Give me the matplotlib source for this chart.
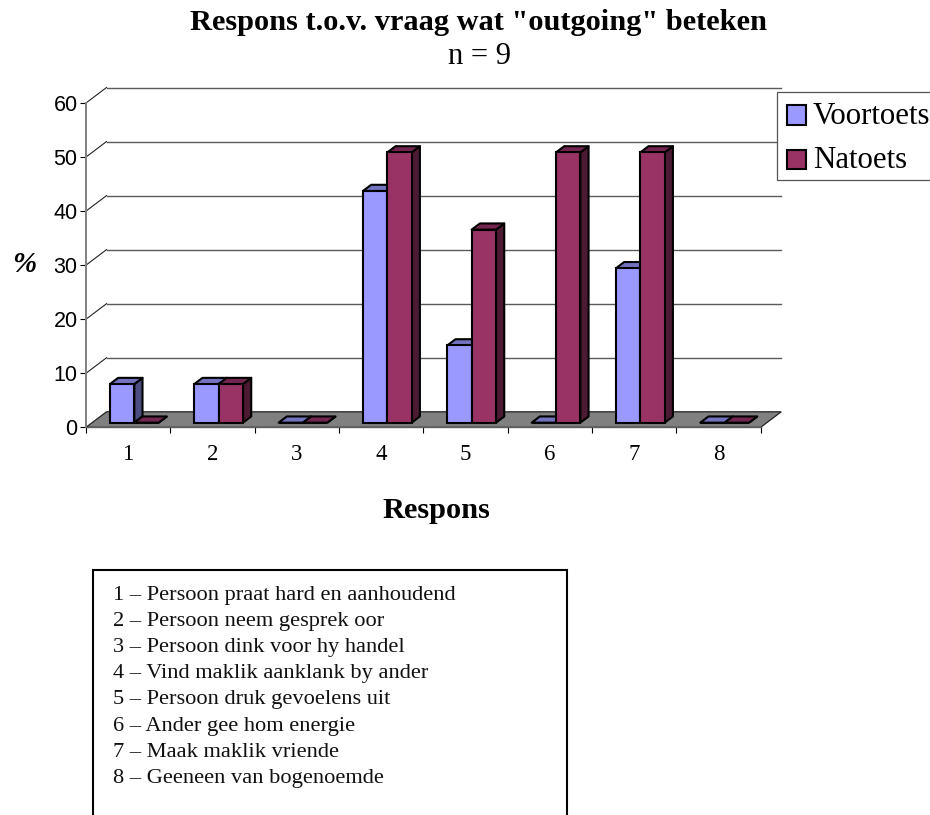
import matplotlib
matplotlib.use("Agg")
import matplotlib.pyplot as plt
from matplotlib.patches import Rectangle

SERIF = "Liberation Serif"
SANS = "Liberation Sans"

categories = ["1", "2", "3", "4", "5", "6", "7", "8"]
voortoets = [7.14, 7.14, 0, 42.86, 14.29, 0, 28.57, 0]
natoets = [0, 7.14, 0, 50, 35.71, 50, 50, 0]
y_ticks = [0, 10, 20, 30, 40, 50, 60]
series_names = ["Voortoets", "Natoets"]

key_lines = [
    "1 – Persoon praat hard en aanhoudend",
    "2 – Persoon neem gesprek oor",
    "3 – Persoon dink voor hy handel",
    "4 – Vind maklik aanklank by ander",
    "5 – Persoon druk gevoelens uit",
    "6 – Ander gee hom energie",
    "7 – Maak maklik vriende",
    "8 – Geeneen van bogenoemde",
]

W, H = 930, 815
LEFT, RIGHT, TOP, BOTTOM = 86, 760.7, 103, 427.3


def px(x, y):
    return x / W, 1 - y / H


def add_box(x_left, y_top, x_right, y_bottom, **kw):
    x0, y0 = px(x_left, y_bottom)
    x1, y1 = px(x_right, y_top)
    fig.add_artist(Rectangle((x0, y0), x1 - x0, y1 - y0, transform=fig.transFigure, **kw))


def add_text(x, y, text, **kw):
    fx, fy = px(x, y)
    fig.text(fx, fy, text, **kw)


# fake 3d depth, in data units
DEPTH_X = 20.5 / ((RIGHT - LEFT) / 8)
DEPTH_Y = 15.5 / ((BOTTOM - TOP) / 60)
GAP = 0.3
BAR_DEPTH = 0.4
BAR_W = 0.289

fig = plt.figure(figsize=(W / 100, H / 100), dpi=100)
ax = fig.add_axes([LEFT / W, 1 - BOTTOM / H, (RIGHT - LEFT) / W, (BOTTOM - TOP) / H])
ax.set_xlim(0, len(categories))
ax.set_ylim(0, 60)

# back wall lines
for y in y_ticks[1:]:
    ax.plot([0, DEPTH_X], [y, y + DEPTH_Y], color="#222222", lw=0.8, clip_on=False, zorder=1)
    ax.plot([DEPTH_X, len(categories) + DEPTH_X], [y + DEPTH_Y, y + DEPTH_Y],
            color="#5a5a5a", lw=1.0, clip_on=False, zorder=1)

# floor
n = len(categories)
ax.fill([0, n, n + DEPTH_X, DEPTH_X], [0, 0, DEPTH_Y, DEPTH_Y], facecolor="#808080",
        edgecolor="#222222", lw=0.9, clip_on=False, zorder=2)


def draw_bar(x0, value, front, side, top):
    bx = x0 + GAP * DEPTH_X
    by = GAP * DEPTH_Y
    dx = BAR_DEPTH * DEPTH_X
    dy = BAR_DEPTH * DEPTH_Y
    kw = dict(edgecolor="black", lw=1.5, clip_on=False, zorder=3, joinstyle="round")
    ax.fill([bx + BAR_W, bx + BAR_W + dx, bx + BAR_W + dx, bx + BAR_W],
            [by, by + dy, by + value + dy, by + value], facecolor=side, **kw)
    ax.fill([bx, bx + BAR_W, bx + BAR_W + dx, bx + dx],
            [by + value, by + value, by + value + dy, by + value + dy], facecolor=top, **kw)
    ax.bar(bx, value, BAR_W, bottom=by, align="edge", color=front, edgecolor="black",
           linewidth=1.5, clip_on=False, zorder=3)


pad = (1 - 2 * BAR_W) / 2
for i in range(n):
    draw_bar(i + pad, voortoets[i], "#9999ff", "#4c4c80", "#7373bf")
    draw_bar(i + pad + BAR_W, natoets[i], "#993366", "#4d1a33", "#732650")

for side in ["top", "right"]:
    ax.spines[side].set_visible(False)
ax.spines["left"].set_color("#808080")
ax.spines["left"].set_linewidth(1.4)
ax.spines["bottom"].set_color("#606060")
ax.spines["bottom"].set_linewidth(1.0)
ax.spines["left"].set_zorder(2.5)
ax.spines["bottom"].set_zorder(2.5)

ax.set_yticks(y_ticks)
ax.tick_params(axis="y", direction="out", length=4, width=0.8, pad=2, labelsize=15.5)
for label in ax.get_yticklabels():
    label.set_family(SANS)
ax.set_xticks(range(n + 1))
ax.set_xticklabels([])
ax.set_xticks([i + 0.5 for i in range(n)], categories, minor=True)
ax.tick_params(axis="x", which="major", direction="out", length=4, width=0.8)
ax.tick_params(axis="x", which="minor", length=0, pad=12, labelsize=16.5)
for label in ax.get_xticklabels(minor=True):
    label.set_family(SERIF)

# legend box, runs off the right edge
add_box(777, 91.7, 940, 180, facecolor="white", edgecolor="#555555", lw=0.9, zorder=5)
add_box(786.5, 104.5, 805.5, 124.5, facecolor="#9999ff", edgecolor="black", lw=1.5, zorder=6)
add_box(786.5, 149.5, 805.5, 169, facecolor="#993366", edgecolor="black", lw=1.5, zorder=6)
add_text(813, 124.3, series_names[0], family=SERIF, size=22.2, va="baseline", zorder=6)
add_text(813, 168.3, series_names[1], family=SERIF, size=22.2, va="baseline", zorder=6)

add_text(478.5, 23, 'Respons t.o.v. vraag wat "outgoing" beteken', family=SERIF, weight="bold",
         size=21.9, ha="center", va="center")
add_text(479, 57, "n = 9", family=SERIF, size=22, ha="center", va="center")
add_text(436, 510, "Respons", family=SERIF, weight="bold", size=21.9, ha="center", va="center")
add_text(24, 265, "%", family=SERIF, weight="bold", style="italic", size=21, ha="center", va="center")

# key box, runs off the bottom of the page
add_box(92.7, 570, 566.7, 840, facecolor="white", edgecolor="black", lw=1.5)
for i, line in enumerate(key_lines):
    add_text(113, 595.5 + i * 26.1, line, family=SERIF, size=16.1, ha="left", va="center",
             color="#111111")

fig.savefig("out.png", dpi=100)
